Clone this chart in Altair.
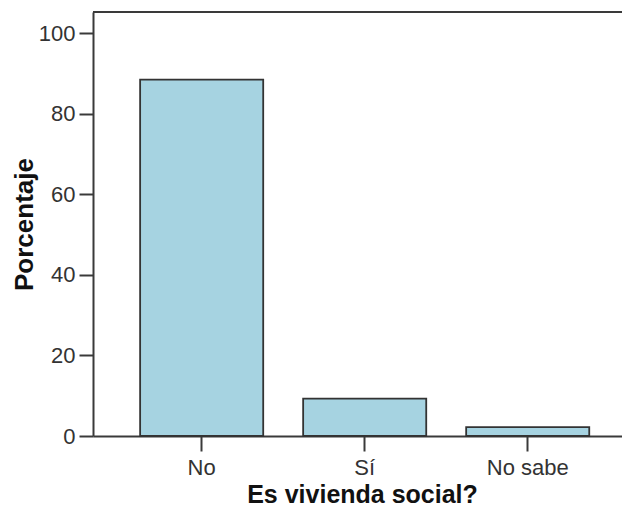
import altair as alt
import pandas as pd

categories = ["No", "Sí", "No sabe"]
values = [88.5, 9.3, 2.2]
y_ticks = [0, 20, 40, 60, 80, 100]

df = pd.DataFrame({"cat": categories, "pct": values})

W, H = 529, 424
FONT = "Liberation Sans"

x_enc = alt.X(
    "cat:N",
    sort=categories,
    scale=alt.Scale(paddingInner=0.245, paddingOuter=0.245, align=0.59),
    axis=alt.Axis(
        title="Es vivienda social?",
        labelAngle=0,
        labelFont=FONT, labelFontSize=22, labelColor="#333333",
        labelPadding=6, tickSize=15, tickWidth=2, tickColor="#3a3a3a",
        domainColor="#3a3a3a", domainWidth=2,
        titleFont=FONT, titleFontSize=25, titleFontWeight="bold", titleColor="#111111",
        titleX=269, titleY=66, titleBaseline="alphabetic", titleAlign="center",
    ),
)
y_enc = alt.Y(
    "pct:Q",
    scale=alt.Scale(domain=[0, 105.3], nice=False),
    axis=alt.Axis(
        title="Porcentaje",
        values=y_ticks, grid=False,
        labelFont=FONT, labelFontSize=22, labelColor="#333333",
        labelPadding=4, tickSize=14, tickWidth=2, tickColor="#3a3a3a",
        domainColor="#3a3a3a", domainWidth=2,
        titleFont=FONT, titleFontSize=26, titleFontWeight="bold", titleColor="#111111",
        titleAngle=-90, titleX=-61, titleY=212, titleBaseline="alphabetic", titleAlign="center",
    ),
)

bars = alt.Chart(df).mark_bar(
    color="#a6d3e1", stroke="#333333", strokeWidth=1.8
).encode(x=x_enc, y=y_enc)

top_line = alt.Chart(df).mark_rule(color="#3a3a3a", strokeWidth=2).encode(
    x=alt.value(0), x2=alt.value(W), y=alt.value(0)
)

chart = alt.layer(bars, top_line).properties(
    width=W, height=H,
    autosize=alt.AutoSizeParams(type="none"),
    padding={"left": 85, "top": 4, "right": 0, "bottom": 72},
    background="white",
).configure_view(stroke=None)

chart.save("out.html", embed_options={"renderer": "svg", "actions": False})
